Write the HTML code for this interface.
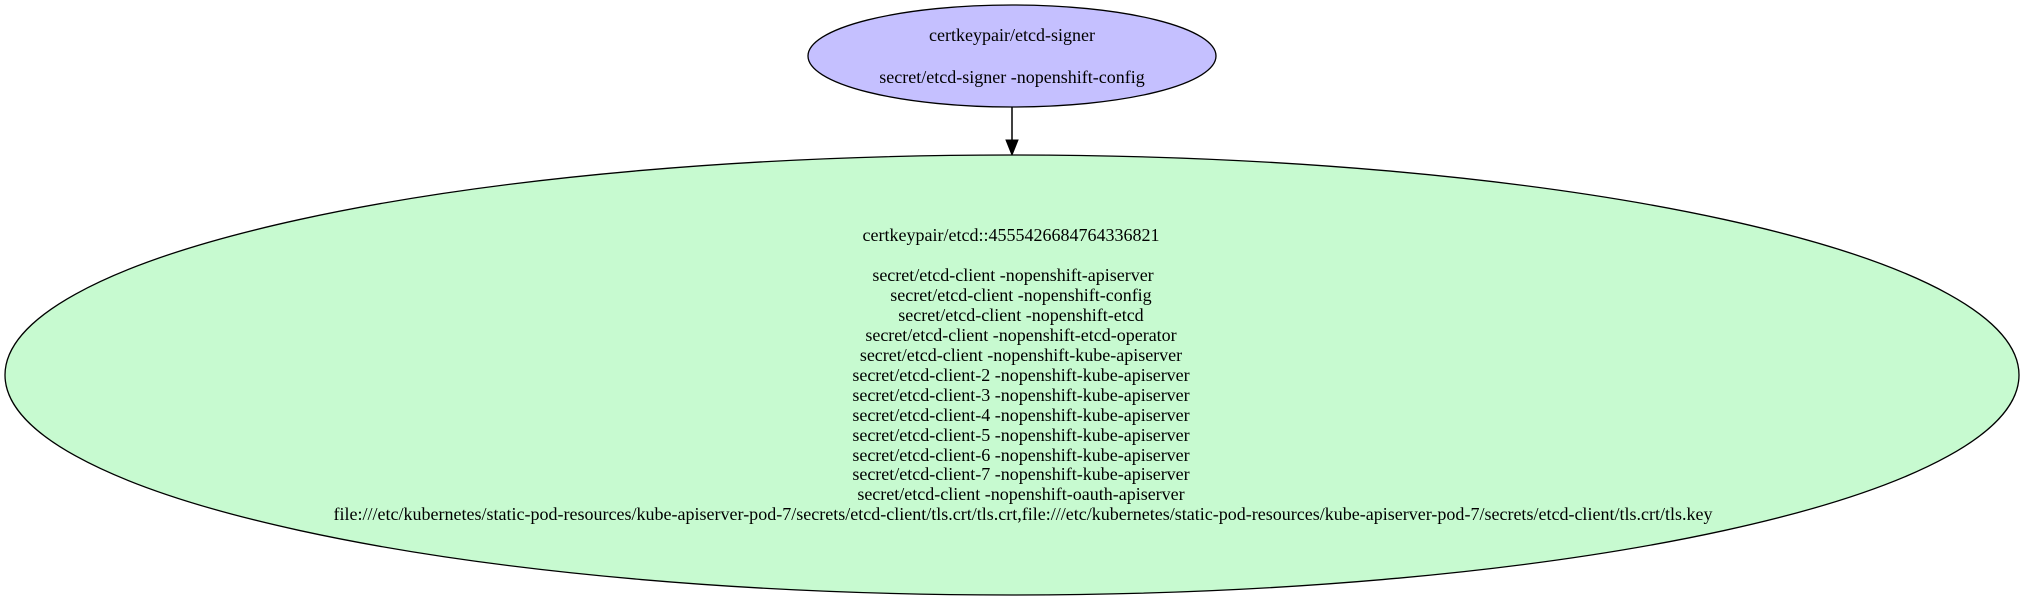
<!DOCTYPE html>
<html><head><meta charset="utf-8"><style>html,body{margin:0;padding:0;background:#fff}svg{display:block}</style></head>
<body>
<svg width="2025" height="602" viewBox="0 0 2025 602" xmlns="http://www.w3.org/2000/svg" font-family="'Liberation Serif', serif" font-size="18" fill="#000">
<ellipse cx="1012" cy="56" rx="204" ry="51" fill="#c5c0ff" stroke="#000" stroke-width="1.3"/>
<text x="1012" y="41" text-anchor="middle">certkeypair/etcd-signer</text>
<text x="1012" y="83" text-anchor="middle">secret/etcd-signer -nopenshift-config</text>
<line x1="1012" y1="107" x2="1012" y2="140" stroke="#000" stroke-width="1.5"/>
<polygon points="1006,140 1018,140 1012,155" fill="#000" stroke="#000"/>
<ellipse cx="1012" cy="375" rx="1007" ry="220" fill="#c7fad0" stroke="#000" stroke-width="1.3"/>
<g text-anchor="middle">
<text x="1011" y="241">certkeypair/etcd::4555426684764336821</text>
<text x="1013" y="281">secret/etcd-client -nopenshift-apiserver</text>
<text x="1021" y="301">secret/etcd-client -nopenshift-config</text>
<text x="1021" y="321">secret/etcd-client -nopenshift-etcd</text>
<text x="1021" y="341">secret/etcd-client -nopenshift-etcd-operator</text>
<text x="1021" y="361">secret/etcd-client -nopenshift-kube-apiserver</text>
<text x="1021" y="381">secret/etcd-client-2 -nopenshift-kube-apiserver</text>
<text x="1021" y="401">secret/etcd-client-3 -nopenshift-kube-apiserver</text>
<text x="1021" y="421">secret/etcd-client-4 -nopenshift-kube-apiserver</text>
<text x="1021" y="441">secret/etcd-client-5 -nopenshift-kube-apiserver</text>
<text x="1021" y="461">secret/etcd-client-6 -nopenshift-kube-apiserver</text>
<text x="1021" y="480">secret/etcd-client-7 -nopenshift-kube-apiserver</text>
<text x="1021" y="500">secret/etcd-client -nopenshift-oauth-apiserver</text>
<text x="1023" y="520" textLength="1379" lengthAdjust="spacingAndGlyphs">file:///etc/kubernetes/static-pod-resources/kube-apiserver-pod-7/secrets/etcd-client/tls.crt/tls.crt,file:///etc/kubernetes/static-pod-resources/kube-apiserver-pod-7/secrets/etcd-client/tls.crt/tls.key</text>
</g>
</svg>
</body></html>
